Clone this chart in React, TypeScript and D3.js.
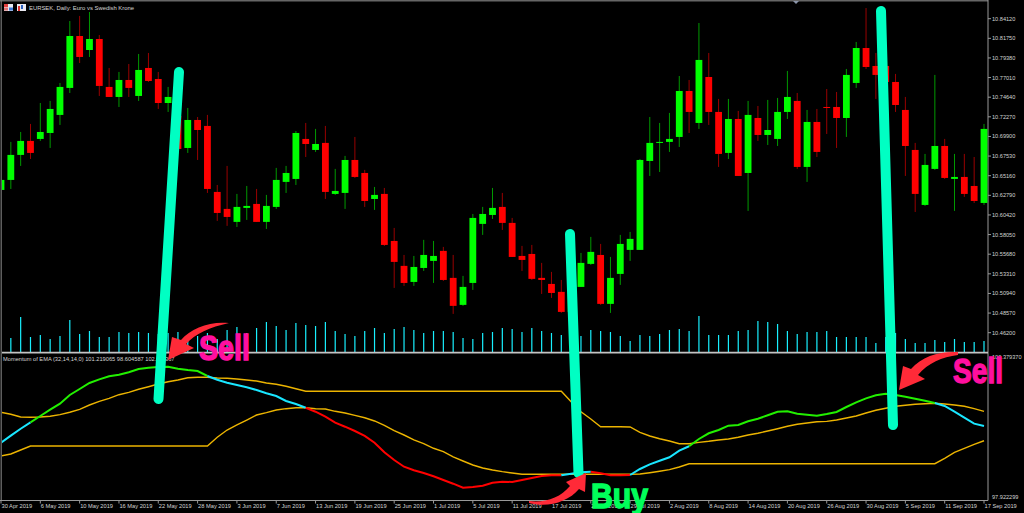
/**
 * EURSEK daily candles with volume and a Momentum of EMA panel.
 */
import React from 'react';
import * as d3 from 'd3';

const opens = [10.6344,10.6465,10.6767,10.6936,10.6960,10.7032,10.7250,10.7576,10.8203,10.8034,10.8167,10.7588,10.7467,10.7672,10.7479,10.7817,10.7684,10.7394,10.7238,10.6851,10.7189,10.7117,10.6320,10.6115,10.5958,10.6127,10.6175,10.5958,10.6139,10.6441,10.6477,10.6960,10.6827,10.6912,10.6296,10.6308,10.6706,10.6549,10.6235,10.6296,10.5728,10.5427,10.5233,10.5402,10.5487,10.5608,10.5282,10.4956,10.5221,10.5934,10.6042,10.6139,10.5946,10.5547,10.5571,10.5282,10.5209,10.5113,10.4871,10.5173,10.5451,10.5559,10.4968,10.5330,10.5620,10.5620,10.6694,10.6912,10.6924,10.6984,10.7539,10.7153,10.7708,10.7286,10.6791,10.7201,10.6549,10.7213,10.7008,10.6960,10.7286,10.7419,10.6622,10.7165,10.7346,10.7346,10.7213,10.7636,10.8058,10.7841,10.7841,10.7648,10.7310,10.6827,10.6163,10.6598,10.6875,10.6477,10.6501,10.6392,10.6187];
const highs = [10.6489,10.6924,10.7044,10.7141,10.7394,10.7419,10.7636,10.8384,10.8445,10.8493,10.8215,10.7817,10.7769,10.7865,10.7986,10.7998,10.7769,10.7588,10.7370,10.7334,10.7225,10.7250,10.6404,10.6634,10.6296,10.6392,10.6356,10.6284,10.6610,10.6634,10.7056,10.7153,10.7081,10.7117,10.6598,10.6755,10.6984,10.6586,10.6380,10.6368,10.5885,10.5559,10.5547,10.5741,10.5728,10.5656,10.5559,10.5306,10.6054,10.6139,10.6368,10.6308,10.6006,10.5668,10.5680,10.5463,10.5354,10.5257,10.5439,10.5583,10.5777,10.5692,10.5535,10.5801,10.5837,10.6718,10.7225,10.7153,10.7274,10.7720,10.7672,10.8360,10.7998,10.7443,10.7443,10.7298,10.7419,10.7358,10.7431,10.7455,10.7781,10.7515,10.7310,10.7322,10.7563,10.7527,10.7805,10.8131,10.8541,10.7998,10.7914,10.7745,10.7467,10.6912,10.6779,10.7733,10.6960,10.6779,10.6779,10.6742,10.7141];
const lows = [10.6320,10.6356,10.6634,10.6718,10.6936,10.6851,10.7129,10.7515,10.7877,10.7950,10.7479,10.7467,10.7346,10.7467,10.7419,10.7648,10.7322,10.7286,10.6827,10.6791,10.6706,10.6308,10.5970,10.5910,10.5897,10.5982,10.5958,10.5873,10.6115,10.6308,10.6404,10.6742,10.6803,10.6235,10.6284,10.6115,10.6489,10.6139,10.6103,10.5668,10.5161,10.5185,10.5185,10.5366,10.5221,10.5245,10.4847,10.4944,10.5137,10.5801,10.5994,10.5861,10.5535,10.5366,10.5257,10.5088,10.5040,10.4859,10.4775,10.5173,10.5439,10.4956,10.4859,10.5197,10.5487,10.5620,10.6513,10.6561,10.6803,10.6863,10.7032,10.7081,10.7129,10.6622,10.6718,10.6513,10.6091,10.6936,10.6887,10.6875,10.7201,10.6598,10.6441,10.6742,10.7020,10.6851,10.6984,10.7576,10.7805,10.7443,10.7551,10.7286,10.6513,10.6078,10.6151,10.6586,10.6477,10.6091,10.6260,10.6187,10.6163];
const closes = [10.6465,10.6767,10.6936,10.6791,10.7044,10.7322,10.7588,10.8203,10.7950,10.8167,10.7600,10.7467,10.7672,10.7576,10.7793,10.7660,10.7394,10.7467,10.6839,10.7189,10.7068,10.6356,10.6066,10.6018,10.6139,10.6151,10.5958,10.6151,10.6465,10.6549,10.7032,10.6899,10.6899,10.6320,10.6332,10.6706,10.6501,10.6211,10.6284,10.5680,10.5475,10.5221,10.5414,10.5559,10.5547,10.5257,10.4944,10.5173,10.6006,10.6054,10.6127,10.5946,10.5535,10.5499,10.5270,10.5257,10.5100,10.4871,10.5197,10.5463,10.5596,10.4968,10.5282,10.5692,10.5753,10.6706,10.6912,10.6924,10.6960,10.7539,10.7286,10.7914,10.7286,10.6779,10.7201,10.6513,10.7250,10.7008,10.7068,10.7286,10.7467,10.6622,10.7165,10.6803,10.7334,10.7213,10.7733,10.8058,10.7829,10.7733,10.7648,10.7370,10.6875,10.6296,10.6646,10.6875,10.6489,10.6501,10.6296,10.6211,10.7081];
// tick volume, thousands
const volumes = [12,14,35,15,17,13,16,32,18,21,15,15,20,19,20,19,18,19,20,16,16,19,13,22,25,19,24,30,26,22,29,27,26,30,21,18,16,21,24,19,23,25,22,19,21,21,20,14,13,19,20,24,23,20,24,21,19,17,19,16,22,21,20,16,11,17,16,18,22,23,21,36,17,17,17,21,22,31,30,28,21,18,20,20,21,15,15,15,15,9,15,19,13,9,9,12,10,13,10,10,11];

const momentum = [98.876,98.999,99.121,99.233,99.343,99.453,99.558,99.710,99.815,99.920,99.984,100.037,100.065,100.107,100.164,100.187,100.199,100.205,100.170,100.147,100.129,100.042,99.977,99.925,99.885,99.844,99.797,99.740,99.692,99.605,99.553,99.488,99.418,99.331,99.226,99.156,99.081,98.994,98.876,98.709,98.574,98.457,98.394,98.347,98.289,98.225,98.160,98.090,98.102,98.125,98.177,98.195,98.190,98.225,98.260,98.295,98.307,98.307,98.335,98.359,98.370,98.342,98.307,98.307,98.312,98.417,98.499,98.562,98.621,98.737,98.814,98.941,99.041,99.098,99.174,99.186,99.250,99.296,99.355,99.418,99.425,99.383,99.366,99.348,99.378,99.413,99.500,99.582,99.652,99.705,99.733,99.710,99.680,99.645,99.610,99.570,99.518,99.418,99.313,99.209,99.168];
const upperBand = [99.408,99.373,99.326,99.320,99.326,99.338,99.366,99.408,99.460,99.535,99.600,99.652,99.715,99.757,99.810,99.855,99.902,99.942,99.972,100.012,100.019,100.019,100.007,100.002,99.990,99.972,99.955,99.920,99.897,99.862,99.820,99.775,99.775,99.775,99.775,99.775,99.775,99.775,99.775,99.775,99.775,99.775,99.775,99.775,99.775,99.775,99.775,99.775,99.775,99.775,99.775,99.775,99.775,99.775,99.775,99.775,99.775,99.775,99.593,99.418,99.291,99.156,99.156,99.156,99.151,99.058,98.994,98.946,98.906,98.859,98.859,98.883,98.901,98.924,98.941,98.971,99.011,99.041,99.081,99.121,99.163,99.198,99.221,99.243,99.250,99.273,99.308,99.343,99.395,99.443,99.478,99.513,99.530,99.548,99.558,99.565,99.553,99.535,99.513,99.471,99.425];
const lowerBand = [98.644,98.679,98.749,98.819,98.819,98.819,98.819,98.819,98.819,98.819,98.819,98.819,98.819,98.819,98.819,98.819,98.819,98.819,98.819,98.819,98.819,98.819,98.971,99.098,99.186,99.273,99.360,99.401,99.448,99.471,99.488,99.488,99.471,99.465,99.425,99.395,99.355,99.313,99.256,99.181,99.086,99.011,98.924,98.859,98.779,98.719,98.627,98.557,98.487,98.434,98.399,98.370,98.347,98.324,98.324,98.324,98.324,98.324,98.324,98.324,98.324,98.324,98.324,98.324,98.324,98.329,98.352,98.377,98.405,98.452,98.509,98.509,98.509,98.509,98.509,98.509,98.509,98.509,98.509,98.509,98.509,98.509,98.509,98.509,98.509,98.509,98.509,98.509,98.509,98.509,98.509,98.509,98.509,98.509,98.509,98.509,98.604,98.709,98.779,98.848,98.911];

// where the momentum line changes colour
const trendBreaks = [0, 3, 21, 31, 57, 60, 64, 70, 95, 100];
const trendColors = ['#19e6ff', '#22f000', '#19e6ff', '#ff0000', '#19e6ff', '#ff0000', '#19e6ff', '#22f000', '#19e6ff'];

const priceTicks = [10.8412,10.8175,10.7938,10.7701,10.7464,10.7227,10.699,10.6753,10.6516,10.6279,10.6042,10.5805,10.5568,10.5331,10.5094,10.4857,10.462];
const dateLabels = ['30 Apr 2019','6 May 2019','10 May 2019','16 May 2019','22 May 2019','28 May 2019','3 Jun 2019','7 Jun 2019','13 Jun 2019','19 Jun 2019','25 Jun 2019','1 Jul 2019','5 Jul 2019','11 Jul 2019','17 Jul 2019','23 Jul 2019','29 Jul 2019','2 Aug 2019','8 Aug 2019','14 Aug 2019','20 Aug 2019','26 Aug 2019','30 Aug 2019','5 Sep 2019','11 Sep 2019','17 Sep 2019'];
const LABEL_EVERY = 4;

const WIDTH = 1024;
const HEIGHT = 513;
const PLOT_RIGHT = 988;
const SEPARATOR = 352.6;
const PANEL_BOTTOM = 500.5;
const BAND_GOLD = '#ecb400';
const AXIS_TEXT = '#d4d4d4';
const FONT = '"Liberation Sans", sans-serif';
const MARKER = '#00ffc3';
const ARROW = '#ff2a38';

const x = d3.scaleLinear().domain([0, 100]).range([1, 984]);
const yPrice = d3.scaleLinear().domain([10.462, 10.8412]).range([332.7, 18.7]);
const yVolume = d3.scaleLinear().domain([0, 36]).range([352, 316]);
const yPanel = d3.scaleLinear().domain([97.922299, 100.37937]).range([497.3, 356.7]);

const panelLine = d3
  .line<number>()
  .x((_, i) => x(i))
  .y((d) => yPanel(d));

// momentum split into its coloured runs, each keeping its real index
const trendPath = (from: number, to: number) =>
  d3
    .line<number>()
    .x((i) => x(i))
    .y((i) => yPanel(momentum[i]))(d3.range(from, to + 1)) || '';

export default function App() {
  return (
    <svg
      width={WIDTH}
      height={HEIGHT}
      viewBox={`0 0 ${WIDTH} ${HEIGHT}`}
      style={{position: 'absolute', left: 0, top: 0, background: '#000', display: 'block'}}
    >
      <defs>
        <clipPath id="plot">
          <rect x={2} y={2} width={PLOT_RIGHT - 2} height={PANEL_BOTTOM - 2} />
        </clipPath>
      </defs>

      {/* frame */}
      <line x1={0} y1={0.8} x2={PLOT_RIGHT} y2={0.8} stroke="#666" strokeWidth={1.6} />
      <line x1={1.2} y1={0} x2={1.2} y2={PANEL_BOTTOM} stroke="#777" strokeWidth={1.2} />
      <line x1={PLOT_RIGHT} y1={0} x2={PLOT_RIGHT} y2={PANEL_BOTTOM} stroke="#999" />
      <line x1={0} y1={PANEL_BOTTOM} x2={PLOT_RIGHT} y2={PANEL_BOTTOM} stroke="#999" />
      <path d="M793,1 L799,1 L796,4 Z" fill="#8a94a8" />

      {/* title icons */}
      <rect x={4} y={4} width={9} height={7} fill="#e8e8f0" />
      <rect x={4} y={4} width={4} height={3} fill="#e04040" />
      <rect x={9} y={7.5} width={4} height={3} fill="#3a78d8" />
      <rect x={4} y={7.5} width={4} height={3} fill="#e07070" />
      <rect x={17} y={4} width={9} height={7} fill="#e8e8f0" />
      <rect x={18} y={6} width={2} height={5} fill="#d83030" />
      <rect x={21} y={5} width={2} height={4} fill="#2a60c0" />
      <text x={29} y={9.8} fontFamily={FONT} fontSize={5.9} fill={AXIS_TEXT}>
        EURSEK, Daily:  Euro vs Swedish Krone
      </text>

      <g clipPath="url(#plot)">
        {/* volume */}
        {volumes.map((v, i) => (
          <line key={i} x1={x(i)} x2={x(i)} y1={yVolume(0)} y2={yVolume(v)} stroke="#18f0ff" strokeWidth={1.2} />
        ))}

        {/* candles */}
        {opens.map((open, i) => {
          const up = closes[i] >= open;
          const color = up ? '#00ff00' : '#ff0000';
          const top = yPrice(Math.max(open, closes[i]));
          const bottom = yPrice(Math.min(open, closes[i]));
          return (
            <g key={i}>
              <line x1={x(i)} x2={x(i)} y1={yPrice(highs[i])} y2={yPrice(lows[i])} stroke={color} strokeOpacity={0.6} />
              <rect x={x(i) - 3.4} y={top} width={6.8} height={Math.max(bottom - top, 1)} fill={color} />
            </g>
          );
        })}

        {/* indicator panel */}
        <path d={panelLine(upperBand) || ''} fill="none" stroke={BAND_GOLD} strokeWidth={1.4} />
        <path d={panelLine(lowerBand) || ''} fill="none" stroke={BAND_GOLD} strokeWidth={1.4} />
        {trendColors.map((color, i) => (
          <path key={i} d={trendPath(trendBreaks[i], trendBreaks[i + 1])} fill="none" stroke={color} strokeWidth={2} />
        ))}
      </g>

      <line x1={2} y1={SEPARATOR} x2={PLOT_RIGHT} y2={SEPARATOR} stroke="#c4c4c4" strokeWidth={1.6} />
      <text x={3} y={360.5} fontFamily={FONT} fontSize={5.7} fill={AXIS_TEXT}>
        Momentum of EMA (32,14,14,0) 101.219065 98.604587 102.111367
      </text>

      {/* price axis */}
      {priceTicks.map((t) => (
        <g key={t}>
          <line x1={PLOT_RIGHT} x2={PLOT_RIGHT + 3} y1={yPrice(t)} y2={yPrice(t)} stroke="#999" />
          <text x={992} y={yPrice(t) + 2} fontFamily={FONT} fontSize={5.6} fill={AXIS_TEXT}>
            {t.toFixed(5)}
          </text>
        </g>
      ))}
      <text x={992} y={yPanel(100.37937) + 2} fontFamily={FONT} fontSize={5.6} fill={AXIS_TEXT}>
        100.379370
      </text>
      <text x={992} y={yPanel(97.922299) + 2} fontFamily={FONT} fontSize={5.6} fill={AXIS_TEXT}>
        97.922299
      </text>

      {/* date axis */}
      {dateLabels.map((label, i) => (
        <g key={label}>
          <line
            x1={x(i * LABEL_EVERY)}
            x2={x(i * LABEL_EVERY)}
            y1={PANEL_BOTTOM}
            y2={PANEL_BOTTOM + 3}
            stroke="#999"
          />
          <text x={x(i * LABEL_EVERY) + 0.5} y={508} fontFamily={FONT} fontSize={5.7} fill={AXIS_TEXT}>
            {label}
          </text>
        </g>
      ))}

      {/* hand drawn notes on top of the chart */}
      <g stroke={MARKER} strokeWidth={10} strokeLinecap="round">
        <line x1={179} y1={72} x2={158.5} y2={399} />
        <line x1={570} y1={234} x2={578.5} y2={473} />
        <line x1={881} y1={11} x2={893} y2={425} />
      </g>
      <g fill={ARROW}>
        <path d="M229,323 C210,321 191,328 181,340 L172,337 L168,360 L194,348 L186,344 C195,334 210,327 229,323 Z" />
        <path d="M529,501 C545,503 560,498 570,486 L566,482 L586,473 L585,492 L579,489 C568,502 548,508 529,503 Z" />
        <path d="M958,352 C940,351 922,356 911,369 L903,366 L899,390 L925,379 L918,375 C928,363 942,357 958,355 Z" />
      </g>
      <g fontFamily={FONT} fontWeight="bold" fontSize={35}>
        <text x={199} y={360} fill="#ff0f9f" stroke="#ff0f9f" strokeWidth={1.4} textLength={51} lengthAdjust="spacingAndGlyphs">
          Sell
        </text>
        <text x={953} y={383} fill="#ff0f9f" stroke="#ff0f9f" strokeWidth={1.4} textLength={50} lengthAdjust="spacingAndGlyphs">
          Sell
        </text>
        <text x={591} y={508} fill="#00ff5a" stroke="#00ff5a" strokeWidth={1.4} textLength={57} lengthAdjust="spacingAndGlyphs">
          Buy
        </text>
      </g>
    </svg>
  );
}
